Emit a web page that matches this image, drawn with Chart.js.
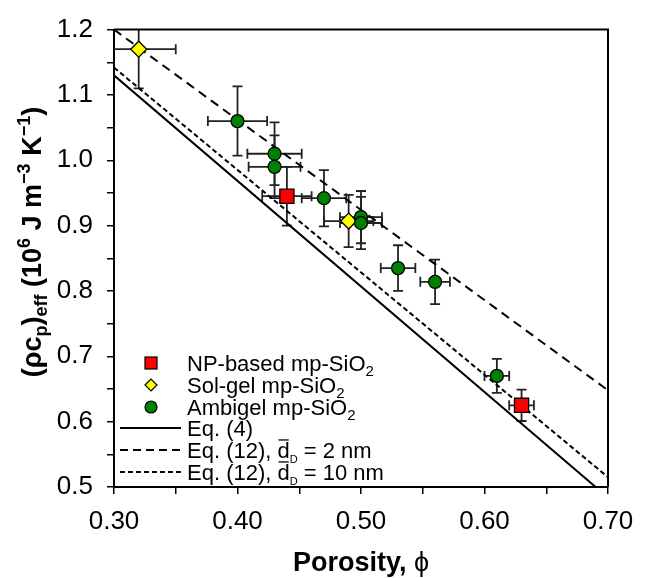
<!DOCTYPE html>
<html>
<head>
<meta charset="utf-8">
<script src="https://cdn.jsdelivr.net/npm/chart.js@4"></script>
<style>
  body { margin: 0; background: #fff; }
  canvas { display: block; }
</style>
</head>
<body>
<canvas id="chart" width="649" height="578"></canvas>
<script>
// measured points (porosity, effective volumetric heat capacity) with error bars
const npX = [0.44, 0.63];
const npY = [0.945, 0.625];
const npXErr = [0.02, 0.01];
const npYErr = [0.045, 0.024];

const solX = [0.32, 0.49];
const solY = [1.17, 0.907];
const solXErr = [0.03, 0.02];
const solYErr = [0.06, 0.04];

const ambX = [0.40, 0.43, 0.43, 0.47, 0.50, 0.50, 0.53, 0.56, 0.61];
const ambY = [1.06, 1.01, 0.99, 0.942, 0.913, 0.904, 0.835, 0.814, 0.67];
const ambXErr = [0.024, 0.022, 0.021, 0.018, 0.017, 0.017, 0.014, 0.012, 0.01];
const ambYErr = [0.053, 0.048, 0.048, 0.043, 0.04, 0.04, 0.035, 0.034, 0.026];

// model lines (end points)
const eq4X = [0.30, 0.69];
const eq4Y = [1.13, 0.50];
const eq12aX = [0.30, 0.70];   // d = 2 nm
const eq12aY = [1.20, 0.648];
const eq12bX = [0.30, 0.70];   // d = 10 nm
const eq12bY = [1.142, 0.515];

const xMin = 0.30, xMax = 0.70, xStep = 0.05;
const yMin = 0.5, yMax = 1.2, yStep = 0.05;

const FONT = '"Liberation Sans", Arial, sans-serif';

function pts(xs, ys, ex, ey) {
  return xs.map((x, i) => ({ x: x, y: ys[i], ex: ex ? ex[i] : 0, ey: ey ? ey[i] : 0 }));
}

// draw text made of pieces (sub / superscripts)
function richWidth(ctx, parts) {
  let w = 0;
  parts.forEach(p => {
    ctx.font = (p.bold ? 'bold ' : '') + p.size + 'px ' + FONT;
    w += ctx.measureText(p.t).width;
  });
  return w;
}
function drawRich(ctx, parts, x, y, align) {
  let w = richWidth(ctx, parts);
  let cx = align === 'center' ? x - w / 2 : x;
  ctx.textBaseline = 'alphabetic';
  ctx.textAlign = 'left';
  parts.forEach(p => {
    ctx.font = (p.bold ? 'bold ' : '') + p.size + 'px ' + FONT;
    const pw = ctx.measureText(p.t).width;
    ctx.fillText(p.t, cx, y + (p.dy || 0));
    if (p.over) {
      ctx.save();
      ctx.lineWidth = 1.3;
      ctx.beginPath();
      ctx.moveTo(cx + 1, y - p.size * 0.82);
      ctx.lineTo(cx + pw - 1, y - p.size * 0.82);
      ctx.stroke();
      ctx.restore();
    }
    cx += pw;
  });
}

const errorBars = {
  id: 'errorBars',
  beforeDatasetsDraw(chart) {
    const ctx = chart.ctx;
    const a = chart.chartArea;
    const xs = chart.scales.x, ys = chart.scales.y;
    ctx.save();
    ctx.beginPath();
    ctx.rect(a.left, a.top, a.right - a.left, a.bottom - a.top);
    ctx.clip();
    ctx.strokeStyle = '#222';
    ctx.lineWidth = 1.8;
    const cap = 5;
    chart.data.datasets.forEach(ds => {
      if (!ds.errors) return;
      ds.data.forEach(p => {
        const px = xs.getPixelForValue(p.x), py = ys.getPixelForValue(p.y);
        const x1 = xs.getPixelForValue(p.x - p.ex), x2 = xs.getPixelForValue(p.x + p.ex);
        const y1 = ys.getPixelForValue(p.y + p.ey), y2 = ys.getPixelForValue(p.y - p.ey);
        ctx.beginPath();
        ctx.moveTo(x1, py); ctx.lineTo(x2, py);
        ctx.moveTo(x1, py - cap); ctx.lineTo(x1, py + cap);
        ctx.moveTo(x2, py - cap); ctx.lineTo(x2, py + cap);
        ctx.moveTo(px, y1); ctx.lineTo(px, y2);
        ctx.moveTo(px - cap, y1); ctx.lineTo(px + cap, y1);
        ctx.moveTo(px - cap, y2); ctx.lineTo(px + cap, y2);
        ctx.stroke();
      });
    });
    ctx.restore();
  }
};

const decorations = {
  id: 'decorations',
  afterDraw(chart) {
    const ctx = chart.ctx;
    const a = chart.chartArea;
    ctx.save();
    // top and right frame
    ctx.strokeStyle = '#000';
    ctx.lineWidth = 2;
    ctx.beginPath();
    ctx.moveTo(a.left, a.top); ctx.lineTo(a.right, a.top); ctx.lineTo(a.right, a.bottom);
    ctx.stroke();

    ctx.fillStyle = '#000';
    ctx.strokeStyle = '#000';

    // x title
    drawRich(ctx, [
      { t: 'Porosity, ', size: 27, bold: true },
      { t: 'ϕ', size: 27 }
    ], (a.left + a.right) / 2, 571, 'center');

    // y title
    ctx.save();
    ctx.translate(41, 242);
    ctx.rotate(-Math.PI / 2);
    drawRich(ctx, [
      { t: '(ρc', size: 27, bold: true },
      { t: 'p', size: 18, bold: true, dy: 6 },
      { t: ')', size: 27, bold: true },
      { t: 'eff', size: 18, bold: true, dy: 6 },
      { t: ' (10', size: 27, bold: true },
      { t: '6', size: 18, bold: true, dy: -11 },
      { t: ' J m', size: 27, bold: true },
      { t: '−3', size: 18, bold: true, dy: -11 },
      { t: ' K', size: 27, bold: true },
      { t: '−1', size: 18, bold: true, dy: -11 },
      { t: ')', size: 27, bold: true }
    ], 0, 0, 'center');
    ctx.restore();

    // legend
    const mx = 151, tx = 187, fs = 22;
    const rows = [363, 385, 407, 428, 450, 472];
    const sub = s => ({ t: s, size: 15, dy: 5 });
    ctx.lineWidth = 1.2;
    // square
    ctx.fillStyle = '#ff0000';
    ctx.fillRect(mx - 6, rows[0] - 6, 12, 12);
    ctx.strokeRect(mx - 6, rows[0] - 6, 12, 12);
    // diamond
    ctx.fillStyle = '#ffff00';
    ctx.beginPath();
    ctx.moveTo(mx - 6, rows[1]); ctx.lineTo(mx, rows[1] - 6); ctx.lineTo(mx + 6, rows[1]); ctx.lineTo(mx, rows[1] + 6);
    ctx.closePath(); ctx.fill(); ctx.stroke();
    // circle
    ctx.fillStyle = '#008000';
    ctx.beginPath();
    ctx.arc(mx, rows[2], 6, 0, Math.PI * 2);
    ctx.fill(); ctx.stroke();
    // line samples
    ctx.lineWidth = 2;
    [[], [8, 5], [5, 3]].forEach((d, i) => {
      ctx.setLineDash(d);
      ctx.beginPath();
      ctx.moveTo(120, rows[3 + i]); ctx.lineTo(181, rows[3 + i]);
      ctx.stroke();
    });
    ctx.setLineDash([]);

    ctx.fillStyle = '#000';
    const base = 8;
    drawRich(ctx, [{ t: 'NP-based mp-SiO', size: fs }, sub('2')], tx, rows[0] + base);
    drawRich(ctx, [{ t: 'Sol-gel mp-SiO', size: fs }, sub('2')], tx, rows[1] + base);
    drawRich(ctx, [{ t: 'Ambigel mp-SiO', size: fs }, sub('2')], tx, rows[2] + base);
    drawRich(ctx, [{ t: 'Eq. (4)', size: fs }], tx, rows[3] + base);
    drawRich(ctx, [{ t: 'Eq. (12), ', size: fs }, { t: 'd', size: fs, over: true }, { t: 'D', size: 11, dy: 5 }, { t: ' = 2 nm', size: fs }], tx, rows[4] + base);
    drawRich(ctx, [{ t: 'Eq. (12), ', size: fs }, { t: 'd', size: fs, over: true }, { t: 'D', size: 11, dy: 5 }, { t: ' = 10 nm', size: fs }], tx, rows[5] + base);
    ctx.restore();
  }
};

const lineStyle = { showLine: true, pointRadius: 0, borderColor: '#000', borderWidth: 2, fill: false, order: 3 };

new Chart(document.getElementById('chart'), {
  type: 'scatter',
  data: {
    datasets: [
      Object.assign({ label: 'Eq. (4)', data: pts(eq4X, eq4Y) }, lineStyle),
      Object.assign({ label: 'Eq. (12), d = 2 nm', data: pts(eq12aX, eq12aY), borderDash: [9, 6] }, lineStyle),
      Object.assign({ label: 'Eq. (12), d = 10 nm', data: pts(eq12bX, eq12bY), borderDash: [5, 3] }, lineStyle),
      {
        label: 'Ambigel mp-SiO2', data: pts(ambX, ambY, ambXErr, ambYErr), errors: true,
        pointStyle: 'circle', pointRadius: 6.5, backgroundColor: '#008000', borderColor: '#000', borderWidth: 1.3, order: 1
      },
      {
        label: 'Sol-gel mp-SiO2', data: pts(solX, solY, solXErr, solYErr), errors: true,
        pointStyle: 'rectRot', pointRadius: 8, backgroundColor: '#ffff00', borderColor: '#000', borderWidth: 1.3, order: 1
      },
      {
        label: 'NP-based mp-SiO2', data: pts(npX, npY, npXErr, npYErr), errors: true,
        pointStyle: 'rect', pointRadius: 10, backgroundColor: '#ff0000', borderColor: '#000', borderWidth: 1.3, order: 1
      }
    ]
  },
  options: {
    responsive: false,
    animation: false,
    events: [],
    layout: { padding: { top: 22, right: 41, left: 0, bottom: 0 } },
    plugins: { legend: { display: false }, tooltip: { enabled: false } },
    scales: {
      x: {
        type: 'linear', min: xMin, max: xMax,
        border: { display: true, color: '#000', width: 2 },
        grid: { drawOnChartArea: false, drawTicks: true, tickLength: 7, color: '#000', lineWidth: 1.5 },
        ticks: {
          stepSize: xStep, autoSkip: false, maxRotation: 0, padding: 12, color: '#000',
          font: { family: FONT, size: 26 },
          callback: v => Math.abs(v * 10 - Math.round(v * 10)) < 1e-6 ? v.toFixed(2) : ''
        },
        afterFit: s => { s.height = 91; }
      },
      y: {
        type: 'linear', min: yMin, max: yMax,
        border: { display: true, color: '#000', width: 2 },
        grid: { drawOnChartArea: false, drawTicks: true, tickLength: 7, color: '#000', lineWidth: 1.5 },
        ticks: {
          stepSize: yStep, autoSkip: false, padding: 14, color: '#000',
          font: { family: FONT, size: 26 },
          callback: v => Math.abs(v * 10 - Math.round(v * 10)) < 1e-6 ? v.toFixed(1) : ''
        },
        afterFit: s => { s.width = 114; }
      }
    }
  },
  plugins: [errorBars, decorations]
});
</script>
</body>
</html>
